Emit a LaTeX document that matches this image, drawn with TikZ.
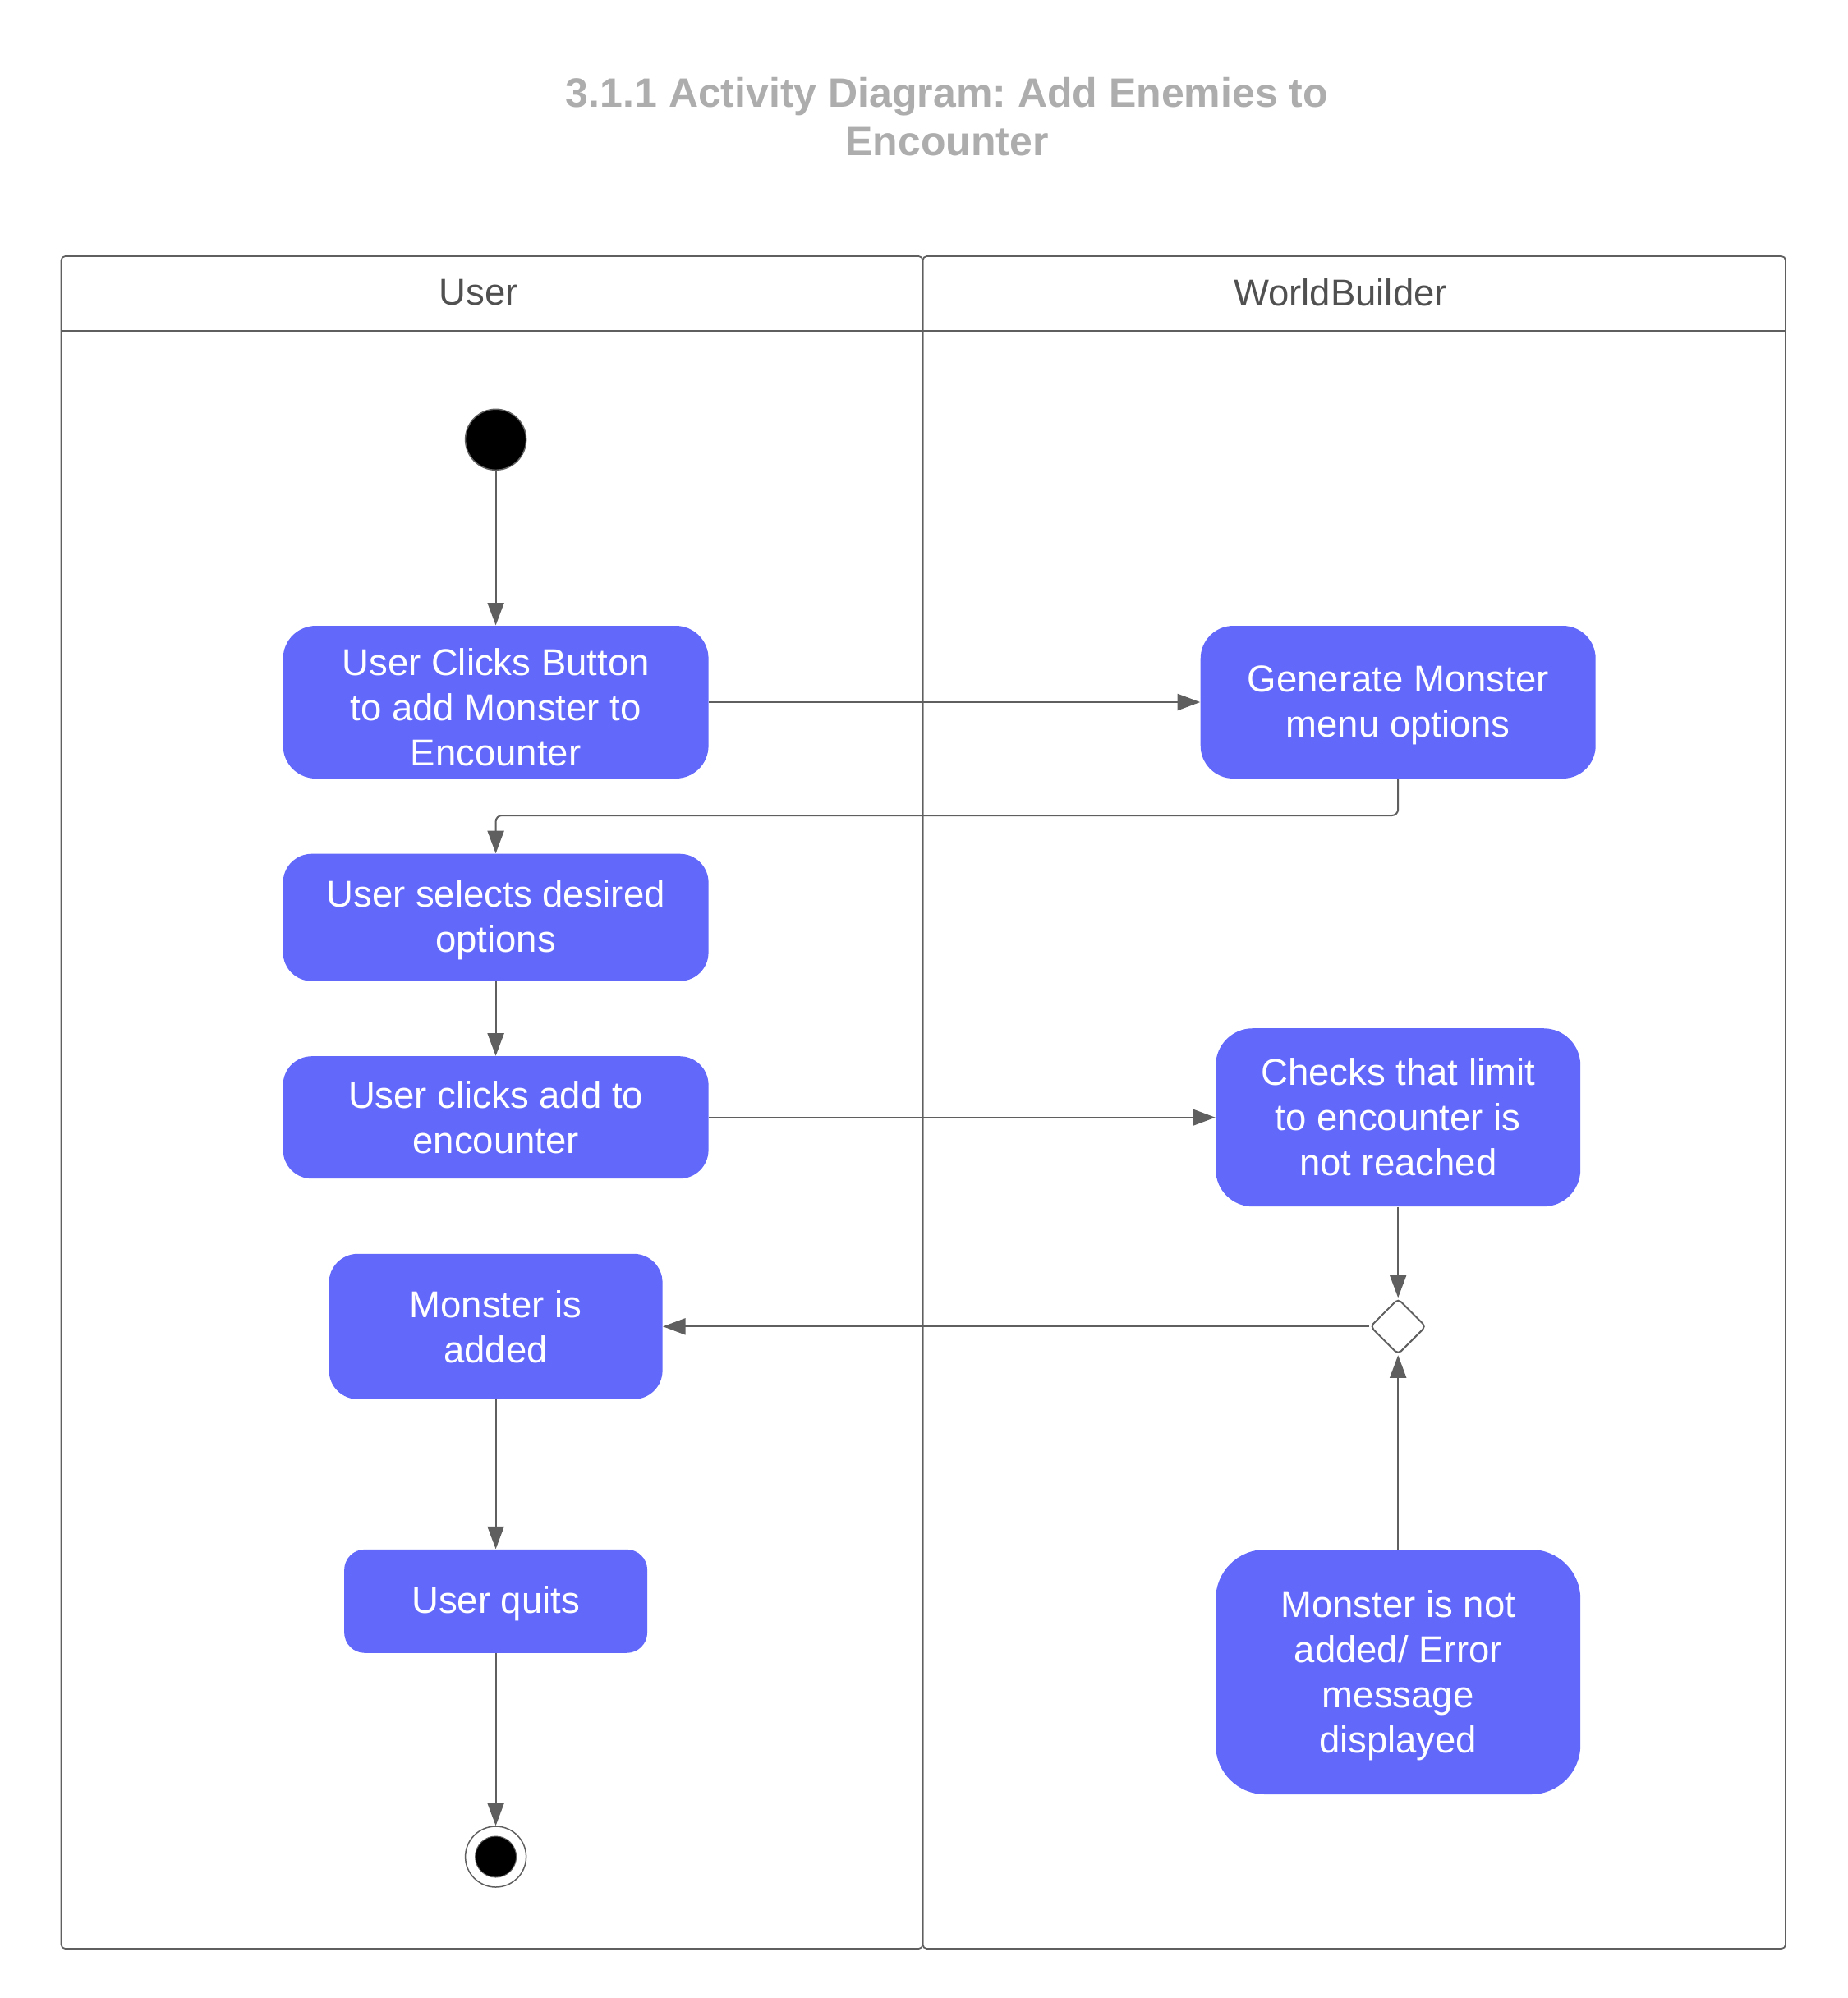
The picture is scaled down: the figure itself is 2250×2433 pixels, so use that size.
\documentclass[tikz,border=0pt]{standalone}
\usepackage{fontspec}
\setmainfont{Liberation Sans}
\usetikzlibrary{shapes.geometric,arrows.meta}
\definecolor{nodeblue}{RGB}{98,104,250}
\definecolor{linegray}{RGB}{95,95,95}
\definecolor{titlegray}{RGB}{173,173,173}
\definecolor{headgray}{RGB}{80,80,80}
\frenchspacing
\begin{document}
\begin{tikzpicture}[x=0.4pt,y=-0.4pt,
  act/.style={fill=nodeblue,inner sep=0pt},
  lbl/.style={text=white,align=center,inner sep=0pt,
    font=\fontsize{18.2pt}{22pt}\selectfont},
  conn/.style={draw=linegray,line width=0.8pt,-{Triangle[length=11pt,width=8pt]}},
  lane/.style={draw=linegray,line width=0.7pt,rounded corners=2pt}]
\useasboundingbox (0,0) rectangle (2250,2433);
% title
\node[text=titlegray,align=center,font=\fontsize{20pt}{23.6pt}\selectfont\bfseries] (title) at (1153,142.5)
  {3.1.1 Activity Diagram: Add Enemies to\\Encounter};
% swimlanes
\draw[lane] (74.5,312) rectangle (1123.5,2373);
\draw[lane] (1123.5,312) rectangle (2174,2373);
\draw[draw=linegray,line width=1pt] (74.5,403) -- (2174,403);
\node[text=headgray,font=\fontsize{18.2pt}{22pt}\selectfont] (hUser) at (582.6,356) {User};
\node[text=headgray,font=\fontsize{18.2pt}{22pt}\selectfont] (hWB) at (1632,356) {WorldBuilder};
% nodes
\node[circle,fill=black,draw=linegray,line width=0.6pt,minimum size=29.6pt,inner sep=0pt] (start) at (603.6,535.3) {};
\node[act,rounded corners=16pt,minimum width=207.2pt,minimum height=74.4pt,
  label={[lbl,yshift=-2.4pt]center:{User Clicks Button\\to add Monster to\\Encounter}}] (A) at (603.6,855) {};
\node[act,rounded corners=16pt,minimum width=192.4pt,minimum height=74.4pt,
  label={[lbl,yshift=-1.6pt]center:{Generate Monster\\menu options}}] (B) at (1702.2,855) {};
\node[act,rounded corners=14pt,minimum width=207.2pt,minimum height=62pt,
  label={[lbl,yshift=-1.2pt]center:{User selects desired\\options}}] (C) at (603.6,1117.2) {};
\node[act,rounded corners=14pt,minimum width=207.2pt,minimum height=59.6pt,
  label={[lbl]center:{User clicks add to\\encounter}}] (D) at (603.6,1360.7) {};
\node[act,rounded corners=18pt,minimum width=177.6pt,minimum height=86.8pt,
  label={[lbl]center:{Checks that limit\\to encounter is\\not reached}}] (E) at (1702.2,1360.7) {};
\node[diamond,draw=linegray,fill=white,line width=0.8pt,minimum width=27.2pt,minimum height=27.2pt,inner sep=0pt,rounded corners=2pt] (dec) at (1702.2,1615.3) {};
\node[act,rounded corners=14pt,minimum width=162.4pt,minimum height=70.8pt,
  label={[lbl]center:{Monster is\\added}}] (F) at (603.6,1615.3) {};
\node[act,rounded corners=10pt,minimum width=147.6pt,minimum height=50.4pt,
  label={[lbl,yshift=-1.2pt]center:{User quits}}] (G) at (603.6,1949.8) {};
\node[act,rounded corners=24pt,minimum width=177.6pt,minimum height=119.2pt,
  label={[lbl,yshift=-1.6pt]center:{Monster is not\\added/ Error\\message\\displayed}}] (H) at (1702.2,2036) {};
\node[circle,fill=white,draw=linegray,line width=0.6pt,minimum size=29.6pt,inner sep=0pt] (end) at (603.6,2261) {};
\fill[black] (end.center) circle (10pt);
\draw[linegray,line width=0.4pt] (end.center) circle (10pt);
% connectors
\draw[conn] (start) -- (A);
\draw[conn] (A) -- (B);
\draw[conn,rounded corners=3pt] (B.south) -- (1702.2,993) -- (603.6,993) -- (C.north);
\draw[conn] (C) -- (D);
\draw[conn] (D) -- (E);
\draw[conn] (E) -- (dec);
\draw[conn] (dec) -- (F);
\draw[conn] (H) -- (dec);
\draw[conn] (F) -- (G);
\draw[conn] (G) -- (end);
\end{tikzpicture}
\end{document}
